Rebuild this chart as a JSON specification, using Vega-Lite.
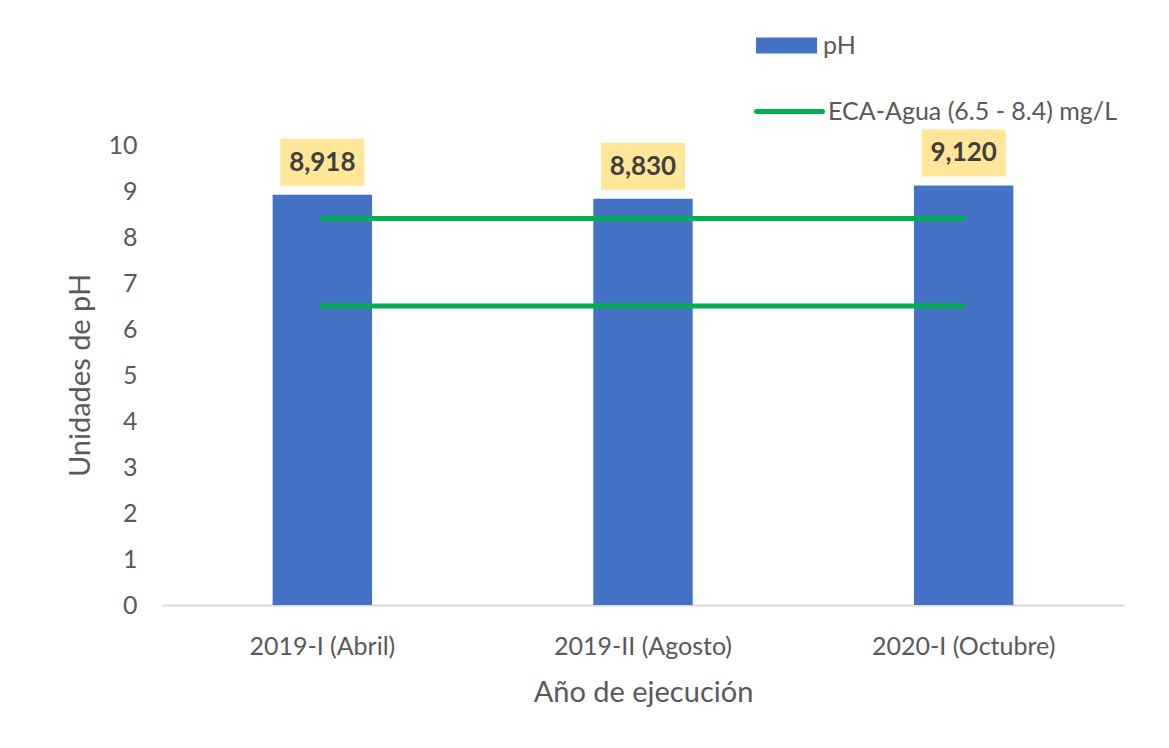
{
  "$schema": "https://vega.github.io/schema/vega-lite/v6.json",
  "autosize": "none",
  "width": 962,
  "height": 460,
  "padding": {"left": 162, "top": 145, "right": 45, "bottom": 143},
  "background": "white",
  "config": {
    "view": {"stroke": null},
    "font": "Lato",
    "locale": {"number": {"decimal": ",", "thousands": ".", "grouping": [3], "currency": ["", ""]}},
    "axis": {"labelFont": "Lato", "titleFont": "Lato", "labelColor": "#595959", "titleColor": "#595959", "titleFontWeight": "normal", "grid": false, "ticks": false, "tickSize": 0, "labelLimit": 0},
    "legend": {"labelLimit": 0}
  },
  "datasets": {
    "ph": [
      {"periodo": "2019-I (Abril)", "serie": "pH", "valor": 8.918},
      {"periodo": "2019-II (Agosto)", "serie": "pH", "valor": 8.830},
      {"periodo": "2020-I (Octubre)", "serie": "pH", "valor": 9.120}
    ],
    "eca": [
      {"periodo": "2019-I (Abril)", "serie": "ECA-Agua (6.5 - 8.4) mg/L", "limite": "max", "valor": 8.4},
      {"periodo": "2019-II (Agosto)", "serie": "ECA-Agua (6.5 - 8.4) mg/L", "limite": "max", "valor": 8.4},
      {"periodo": "2020-I (Octubre)", "serie": "ECA-Agua (6.5 - 8.4) mg/L", "limite": "max", "valor": 8.4},
      {"periodo": "2019-I (Abril)", "serie": "ECA-Agua (6.5 - 8.4) mg/L", "limite": "min", "valor": 6.5},
      {"periodo": "2019-II (Agosto)", "serie": "ECA-Agua (6.5 - 8.4) mg/L", "limite": "min", "valor": 6.5},
      {"periodo": "2020-I (Octubre)", "serie": "ECA-Agua (6.5 - 8.4) mg/L", "limite": "min", "valor": 6.5}
    ]
  },
  "encoding": {
    "x": {
      "field": "periodo", "type": "nominal", "sort": null,
      "scale": {"paddingInner": 0.69, "paddingOuter": 0.345},
      "axis": {
        "title": "Año de ejecución", "labelAngle": 0, "labelFontSize": 25, "labelPadding": 29, "labelLimit": 0,
        "domain": true, "domainColor": "#D9D9D9", "domainWidth": 2,
        "titleFontSize": 29, "titleY": 87, "titleBaseline": "middle"
      }
    },
    "y": {
      "field": "valor", "type": "quantitative",
      "scale": {"domain": [0, 10]},
      "axis": {
        "title": "Unidades de pH", "values": [0,1,2,3,4,5,6,7,8,9,10], "domain": false,
        "labelFontSize": 25, "labelPadding": 25,
        "titleFontSize": 29, "titleX": -82, "titleY": 230, "titleBaseline": "middle", "titleAlign": "center", "titleAngle": -90
      }
    }
  },
  "layer": [
    {
      "data": {"name": "ph"},
      "mark": {"type": "bar"},
      "encoding": {
        "fill": {
          "field": "serie", "type": "nominal",
          "scale": {"domain": ["pH"], "range": ["#4472C4"]},
          "legend": {
            "orient": "none", "legendX": 594, "legendY": -130, "title": null,
            "symbolType": "M-1,-0.262L1,-0.262L1,0.262L-1,0.262Z", "symbolSize": 3721, "symbolStrokeWidth": 0,
            "labelFontSize": 25, "labelColor": "#595959", "labelOffset": 6, "padding": 0, "labelLimit": 0
          }
        }
      }
    },
    {
      "data": {"name": "ph"},
      "mark": {"type": "bar", "width": 84, "color": "#FFE699", "yOffset": -56, "y2Offset": -9},
      "encoding": {
        "y2": {"field": "valor"}
      }
    },
    {
      "data": {"name": "ph"},
      "mark": {"type": "text", "fontSize": 26, "fontWeight": "bold", "color": "#404040", "baseline": "middle", "yOffset": -32},
      "encoding": {
        "text": {"field": "valor", "type": "quantitative", "format": ".3f"}
      }
    },
    {
      "data": {"name": "eca"},
      "mark": {"type": "line", "strokeWidth": 5, "strokeCap": "round"},
      "encoding": {
        "detail": {"field": "limite"},
        "stroke": {
          "field": "serie", "type": "nominal",
          "scale": {"domain": ["ECA-Agua (6.5 - 8.4) mg/L"], "range": ["#00B050"]},
          "legend": {
            "orient": "none", "legendX": 592, "legendY": -69, "title": null,
            "symbolType": "stroke", "symbolSize": 4356, "symbolStrokeWidth": 5,
            "labelFontSize": 25, "labelColor": "#595959", "labelOffset": 3, "padding": 0, "labelLimit": 0,
            "encode": {"symbols": {"update": {"strokeCap": {"value": "round"}}}}
          }
        }
      }
    }
  ]
}
